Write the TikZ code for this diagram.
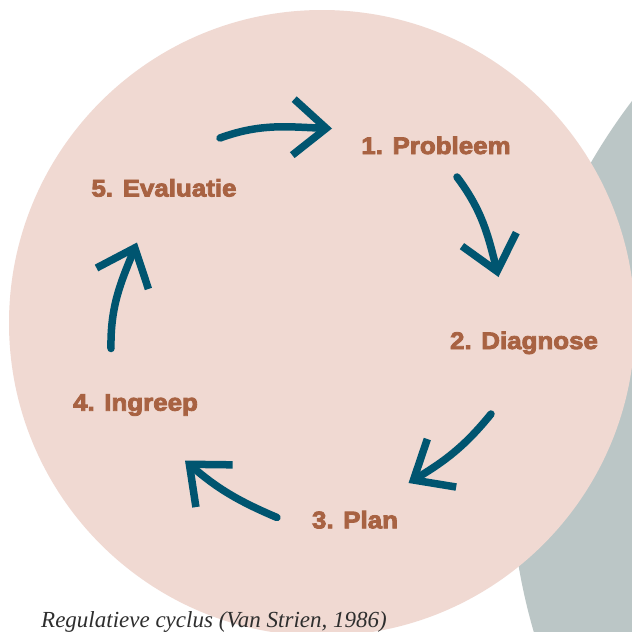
\documentclass[tikz,border=0pt]{standalone}
\usepackage{fontspec}
\usetikzlibrary{arrows.meta}
\newfontfamily\labfont{Liberation Sans Bold}[FakeStretch=1.08,FakeBold=3.5]
\newfontfamily\capfont{Liberation Serif}
\definecolor{pinkbg}{HTML}{F0D9D2}
\definecolor{graybg}{HTML}{BBC6C6}
\definecolor{labcol}{HTML}{A86242}
\definecolor{arrcol}{HTML}{005570}
\definecolor{capcol}{HTML}{2E2E2E}
\begin{document}
\begin{tikzpicture}[x=1pt,y=1pt,
  lab/.style={font=\labfont\fontsize{24}{24}\selectfont, text=labcol, anchor=base, inner sep=0pt},
  cyc/.style={draw=arrcol, line width=7.5pt, line cap=round,
    -{Straight Barb[length=33pt,width=56pt,sharp]}}]
\useasboundingbox (0,0) rectangle (632,-632);
\fill[white] (0,0) rectangle (632,-632);
\begin{scope}
\clip (0,0) rectangle (632,-632);
\fill[graybg] (1111,-464) circle (601);
\fill[pinkbg] (322,-323) circle (313);
\end{scope}
\node[lab] (p1) at (436,-154) {1. Probleem};
\node[lab] (p2) at (524,-349) {2. Diagnose};
\node[lab] (p3) at (355,-528.3) {3. Plan};
\node[lab] (p4) at (135.5,-410.7) {4. Ingreep};
\node[lab] (p5) at (164,-196.5) {5. Evaluatie};
\node[font=\capfont\itshape\fontsize{23}{23}\selectfont, text=capcol, anchor=base west, inner sep=0pt] (cap) at (41,-627) {Regulatieve cyclus (Van Strien, 1986)};
\coordinate (a1s) at (220,-138);   \coordinate (a1e) at (332,-128.5);
\coordinate (a2s) at (457,-177);   \coordinate (a2e) at (498.5,-277);
\coordinate (a3s) at (491,-414);   \coordinate (a3e) at (408.5,-483);
\coordinate (a4s) at (277,-517.5); \coordinate (a4e) at (185,-460.5);
\coordinate (a5s) at (111,-348.5); \coordinate (a5e) at (137,-242.5);
\draw[cyc] (a1s) to[out=20,in=178] (a1e);
\draw[cyc] (a2s) to[out=-53,in=104] (a2e);
\draw[cyc] (a3s) to[out=231,in=31] (a3e);
\draw[cyc] (a4s) to[out=157,in=-41] (a4e);
\draw[cyc] (a5s) to[out=91,in=248] (a5e);
\end{tikzpicture}
\end{document}
